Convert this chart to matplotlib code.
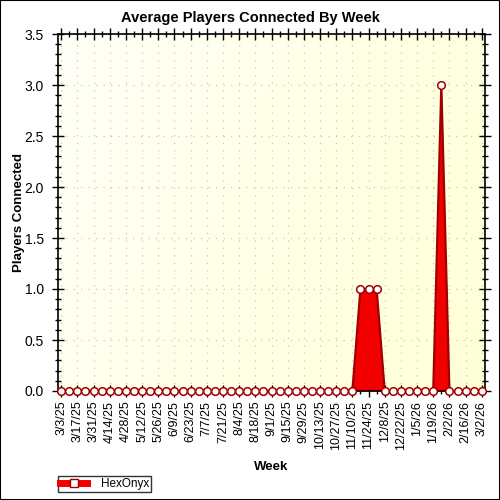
import numpy as np
import matplotlib.pyplot as plt
from matplotlib.ticker import MultipleLocator
from matplotlib.lines import Line2D

plt.rcParams['font.family'] = ['Liberation Sans', 'DejaVu Sans']

weeks = ["3/3/25", "3/10/25", "3/17/25", "3/24/25", "3/31/25", "4/7/25", "4/14/25",
         "4/21/25", "4/28/25", "5/5/25", "5/12/25", "5/19/25", "5/26/25", "6/2/25",
         "6/9/25", "6/16/25", "6/23/25", "6/30/25", "7/7/25", "7/14/25", "7/21/25",
         "7/28/25", "8/4/25", "8/11/25", "8/18/25", "8/25/25", "9/1/25", "9/8/25",
         "9/15/25", "9/22/25", "9/29/25", "10/6/25", "10/13/25", "10/20/25",
         "10/27/25", "11/3/25", "11/10/25", "11/17/25", "11/24/25", "12/1/25",
         "12/8/25", "12/15/25", "12/22/25", "12/29/25", "1/5/26", "1/12/26",
         "1/19/26", "1/26/26", "2/2/26", "2/9/26", "2/16/26", "2/23/26", "3/2/26"]
hexonyx = [0, 0, 0, 0, 0, 0, 0, 0, 0, 0, 0, 0, 0, 0, 0, 0, 0, 0, 0, 0, 0, 0, 0,
           0, 0, 0, 0, 0, 0, 0, 0, 0, 0, 0, 0, 0, 0, 1.0, 1.0, 1.0, 0, 0, 0, 0,
           0, 0, 0, 3.0, 0, 0, 0, 0, 0]
series_name = "HexOnyx"

x = np.arange(len(weeks))
fill_col = "#f20000"
edge_col = "#a00000"

fig = plt.figure(figsize=(5, 5), dpi=100)
fig.patches.append(plt.Rectangle((0, 0), 1, 1, transform=fig.transFigure,
                                 fill=False, edgecolor="black", linewidth=1.5))
ax = fig.add_axes([0.116, 0.218, 0.854, 0.714])

# background gradient: pale at left/top, yellow toward right
gx, gy = np.meshgrid(np.linspace(0, 1, 200), np.linspace(0, 1, 200))
t = np.clip(0.75 * gx + 0.25 * (1 - gy), 0, 1)
top = np.array([1.0, 1.0, 0.97])
bot = np.array([1.0, 1.0, 0.84])
img = top[None, None, :] * (1 - t[..., None]) + bot[None, None, :] * t[..., None]
ax.imshow(img, extent=[0, 1, 0, 1], transform=ax.transAxes, aspect="auto",
          origin="lower", zorder=0)

ax.fill_between(x, 0, hexonyx, color=fill_col, linewidth=0, zorder=2)
ax.plot(x, hexonyx, color=edge_col, linewidth=1.6, zorder=3, clip_on=False)
ax.plot(x, hexonyx, linestyle="none", marker="o", markersize=5.5,
        markerfacecolor="white", markeredgecolor=edge_col, markeredgewidth=1.1,
        zorder=4, clip_on=False)

ax.set_xlim(-0.4, len(weeks) - 0.6)
ax.set_ylim(0, 3.5)

ax.set_xticks(x[::2])
ax.set_xticklabels(weeks[::2], rotation=90, fontsize=9)
ax.set_xticks(x, minor=True)
ax.yaxis.set_major_locator(MultipleLocator(0.5))
ax.yaxis.set_minor_locator(MultipleLocator(0.1))
ax.set_yticklabels([f"{v:.1f}" for v in ax.get_yticks()], fontsize=10)

ax.tick_params(axis="both", which="major", direction="inout", length=8, width=1,
               top=True, right=True)
ax.tick_params(axis="both", which="minor", direction="inout", length=5, width=1,
               top=True, right=True)
ax.tick_params(axis="x", which="major", pad=3)
ax.tick_params(axis="y", which="major", pad=6)

for s in ax.spines.values():
    s.set_linewidth(1.2)

ax.grid(True, which="major", color="#c8c8c8", linestyle=(0, (1, 5)), linewidth=0.9)
for gl in ax.get_xgridlines() + ax.get_ygridlines():
    gl.set_zorder(1)

fig.suptitle("Average Players Connected By Week", x=0.5, y=0.978,
             fontsize=10.5, fontweight="bold")
ax.set_xlabel("Week", fontsize=9.5, fontweight="bold", labelpad=8)
ax.set_ylabel("Players Connected", fontsize=9.5, fontweight="bold", labelpad=0)

handle = Line2D([], [], color=fill_col, linewidth=5, marker="s", markersize=6,
                markerfacecolor="white", markeredgecolor=edge_col)
leg = fig.legend(handles=[handle], labels=[series_name], loc="lower left",
                 bbox_to_anchor=(0.112, 0.012), fontsize=8.5, frameon=True,
                 fancybox=False, edgecolor="black", handlelength=2.3,
                 borderpad=0.15, handletextpad=1.2, borderaxespad=0.2)
leg.get_frame().set_linewidth(1)

fig.savefig("out.png", dpi=100)
